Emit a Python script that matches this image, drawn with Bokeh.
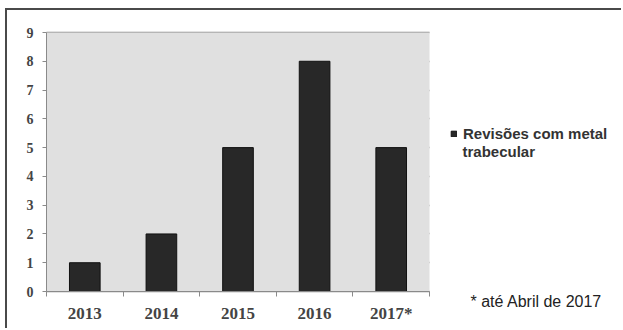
from bokeh.plotting import figure
from bokeh.models import FixedTicker, Legend, LegendItem, Label, Range1d, BoxAnnotation
from bokeh.embed import file_html
from bokeh.resources import INLINE

categories = ["2013", "2014", "2015", "2016", "2017*"]
values = [1, 2, 5, 8, 5]
y_ticks = list(range(0, 10))
series_name_line1 = "Revisões com metal"
series_name_line2 = "trabecular"
footnote = "* até Abril de 2017"

n = len(categories)
ymax = max(y_ticks)
xs = [i + 0.5 for i in range(n)]

# canvas geometry (pixels)
W, H = 616, 320
px0, px1 = 39, 422      # plot area left/right
py_top, py0 = 22, 281   # plot area top (y=9) / bottom (y=0)
sx = (px1 - px0) / n
sy = (py0 - py_top) / ymax

p = figure(width=W, height=H, output_backend="svg", toolbar_location=None,
           x_range=Range1d(-px0 / sx, n + (W - px1) / sx),
           y_range=Range1d(-(H - py0) / sy, ymax + py_top / sy),
           min_border=0, min_border_left=0, min_border_right=0,
           min_border_top=0, min_border_bottom=0)
p.styles = {"margin-left": "5px", "margin-top": "8px",
            "border-top": "2px solid #4a4a4a", "border-left": "2px solid #4a4a4a"}
p.background_fill_color = "white"
p.border_fill_color = "white"
p.outline_line_color = None

p.add_layout(BoxAnnotation(left=0, right=n, bottom=0, top=ymax,
                           fill_color="#e0e0e0", fill_alpha=1, line_color=None, level="underlay"))

bars = p.vbar(x=xs, top=values, width=0.4, bottom=0, fill_color="#282828", line_color="#111111")

p.xgrid.visible = False
p.ygrid.ticker = FixedTicker(ticks=y_ticks)
p.ygrid.cross_bounds = (0, n)
p.ygrid.grid_line_color = "#8a8a8a"
p.ygrid.grid_line_width = 1.5

p.yaxis.fixed_location = 0
p.yaxis.bounds = (0, ymax)
p.yaxis.ticker = FixedTicker(ticks=y_ticks)
p.yaxis.axis_line_color = "#8a8a8a"
p.yaxis.major_tick_line_color = "#8a8a8a"
p.yaxis.major_tick_out = 4
p.yaxis.major_tick_in = 0
p.yaxis.minor_tick_line_color = None
p.yaxis.major_label_text_font = "Liberation Serif"
p.yaxis.major_label_text_font_style = "bold"
p.yaxis.major_label_text_font_size = "14px"
p.yaxis.major_label_text_color = "#444444"
p.yaxis.major_label_standoff = 9

p.xaxis.fixed_location = 0
p.xaxis.bounds = (0, n)
p.xaxis.ticker = FixedTicker(ticks=xs, minor_ticks=list(range(0, n + 1)))
p.xaxis.major_label_overrides = {x: c for x, c in zip(xs, categories)}
p.xaxis.axis_line_color = "#8a8a8a"
p.xaxis.major_tick_line_color = None
p.xaxis.minor_tick_line_color = "#8a8a8a"
p.xaxis.minor_tick_out = 5
p.xaxis.minor_tick_in = 0
p.xaxis.major_label_text_font = "Liberation Serif"
p.xaxis.major_label_text_font_style = "bold"
p.xaxis.major_label_text_font_size = "17px"
p.xaxis.major_label_text_color = "#444444"
p.xaxis.major_label_standoff = 6

legend = Legend(items=[LegendItem(label=series_name_line1, renderers=[bars])],
                location=(443, H - 132), glyph_width=7, glyph_height=7, label_standoff=6,
                padding=0, margin=0, border_line_color=None, background_fill_alpha=0,
                label_text_font="Liberation Sans", label_text_font_style="bold",
                label_text_font_size="15px", label_text_color="#333333", label_height=18)
p.add_layout(legend, "center")

line2 = Label(x=(455 - px0) / sx, y=(py0 - 141) / sy, text=series_name_line2,
              text_font="Liberation Sans", text_font_style="bold", text_font_size="15px",
              text_color="#333333", text_baseline="alphabetic", text_align="left")
p.add_layout(line2)

fn = Label(x=(463 - px0) / sx, y=-(291 - py0) / sy, text=footnote,
           text_font="Liberation Sans", text_font_size="16px",
           text_color="#222222", text_baseline="middle", text_align="left")
p.add_layout(fn)

open("out.html", "w").write(file_html(p, INLINE))
